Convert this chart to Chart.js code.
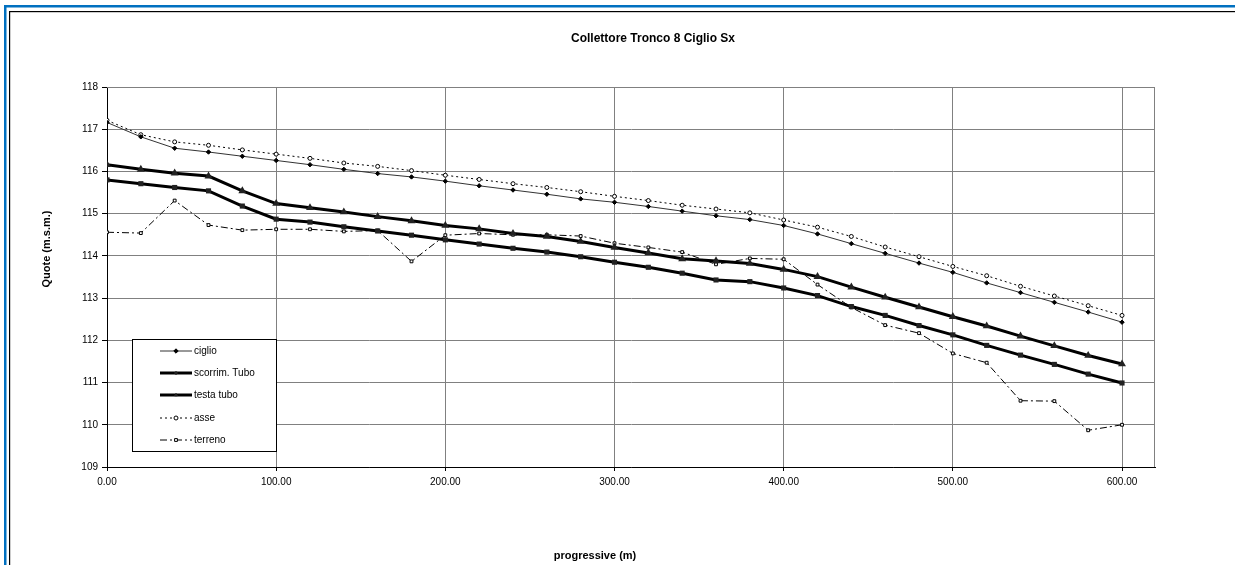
<!DOCTYPE html>
<html>
<head>
<meta charset="utf-8">
<title>Collettore Tronco 8 Ciglio Sx</title>
<script src="https://cdn.jsdelivr.net/npm/chart.js@4.4.1/dist/chart.umd.min.js"></script>
<style>
  html, body { margin: 0; padding: 0; background: #fff; }
  #wrap { position: relative; width: 1235px; height: 565px; }
</style>
</head>
<body>
<div id="wrap"><canvas id="chart" width="1235" height="565"></canvas></div>
<script>
// progressive (m)
const progressive = [0, 20, 40, 60, 80, 100, 120, 140, 160, 180, 200, 220, 240, 260, 280, 300,
    320, 340, 360, 380, 400, 420, 440, 460, 480, 500, 520, 540, 560, 580, 600];

// quote (m.s.m.)
const ciglio = [117.16, 116.82, 116.55, 116.46, 116.36, 116.26, 116.16, 116.05, 115.95, 115.87,
    115.77, 115.66, 115.56, 115.46, 115.35, 115.27, 115.17, 115.06, 114.95, 114.86,
    114.72, 114.52, 114.29, 114.06, 113.83, 113.61, 113.36, 113.13, 112.90, 112.67, 112.43];
const scorrimTubo = [115.80, 115.71, 115.62, 115.54, 115.18, 114.87, 114.80, 114.69, 114.59, 114.49,
    114.38, 114.28, 114.18, 114.09, 113.98, 113.85, 113.73, 113.59, 113.43, 113.39,
    113.24, 113.06, 112.80, 112.59, 112.35, 112.13, 111.88, 111.65, 111.43, 111.20, 110.99];
const testaTubo = [116.16, 116.05, 115.96, 115.89, 115.54, 115.24, 115.14, 115.04, 114.93, 114.83,
    114.72, 114.64, 114.53, 114.46, 114.34, 114.20, 114.07, 113.93, 113.88, 113.82,
    113.68, 113.51, 113.26, 113.02, 112.79, 112.56, 112.34, 112.10, 111.87, 111.64, 111.44];
const asse = [117.21, 116.87, 116.70, 116.62, 116.51, 116.41, 116.31, 116.20, 116.12, 116.02,
    115.91, 115.81, 115.71, 115.62, 115.52, 115.41, 115.31, 115.20, 115.11, 115.02,
    114.85, 114.68, 114.46, 114.21, 113.98, 113.75, 113.53, 113.28, 113.05, 112.82, 112.59];
const terreno = [114.56, 114.54, 115.31, 114.73, 114.61, 114.63, 114.63, 114.58, 114.60, 113.87,
    114.49, 114.53, 114.50, 114.50, 114.47, 114.30, 114.20, 114.09, 113.80, 113.94,
    113.92, 113.32, 112.78, 112.36, 112.17, 111.69, 111.47, 110.57, 110.56, 109.87, 110.00];

const xTicks = [0, 100, 200, 300, 400, 500, 600];
const FONT = "'Liberation Sans', Arial, sans-serif";

const toPoints = arr => progressive.map((x, i) => ({ x: x, y: arr[i] }));

// cornice, titoli e legenda disegnati a posizione fissa
const decorPlugin = {
    id: 'decor',
    beforeDraw(chart) {
        const ctx = chart.ctx;
        ctx.save();
        ctx.fillStyle = '#fff';
        ctx.fillRect(0, 0, chart.width, chart.height);
        // bordo blu esterno
        ctx.fillStyle = '#0070c0';
        ctx.fillRect(4, 5, chart.width, 2.5);
        ctx.fillRect(4, 5, 2.5, chart.height);
        // bordo nero interno
        ctx.fillStyle = '#000';
        ctx.fillRect(9, 11, chart.width, 1.2);
        ctx.fillRect(9, 11, 1.2, chart.height);
        ctx.restore();
    },
    afterDraw(chart) {
        const ctx = chart.ctx;
        const a = chart.chartArea;
        ctx.save();
        // riquadro area grafico
        ctx.strokeStyle = '#808080';
        ctx.lineWidth = 1;
        ctx.beginPath();
        ctx.moveTo(a.left, a.top + 0.5);
        ctx.lineTo(a.right - 0.5, a.top + 0.5);
        ctx.lineTo(a.right - 0.5, a.bottom);
        ctx.stroke();

        ctx.fillStyle = '#000';
        ctx.textAlign = 'center';
        ctx.textBaseline = 'middle';
        ctx.font = 'bold 12px ' + FONT;
        ctx.fillText('Collettore Tronco 8 Ciglio Sx', 653, 39);
        ctx.font = 'bold 11px ' + FONT;
        ctx.fillText('progressive (m)', 595, 556);
        ctx.translate(47, 249);
        ctx.rotate(-Math.PI / 2);
        ctx.fillText('Quote (m.s.m.)', 0, 0);
        ctx.restore();

        // legenda
        ctx.save();
        ctx.fillStyle = '#fff';
        ctx.fillRect(132, 339, 145, 112);
        ctx.strokeStyle = '#000';
        ctx.lineWidth = 1;
        ctx.strokeRect(132.5, 339.5, 144, 112);
        const rows = [351, 373, 395, 418, 440];
        chart.data.datasets.forEach((ds, i) => {
            const y = rows[i];
            ctx.strokeStyle = ds.borderColor;
            ctx.lineWidth = ds.borderWidth;
            ctx.setLineDash(ds.borderDash || []);
            ctx.beginPath();
            ctx.moveTo(160, y);
            ctx.lineTo(192, y);
            ctx.stroke();
            ctx.setLineDash([]);
            ctx.fillStyle = ds.pointBackgroundColor;
            ctx.strokeStyle = ds.pointBorderColor;
            ctx.lineWidth = 1;
            Chart.helpers.drawPoint(ctx, {
                pointStyle: ds.pointStyle,
                radius: ds.pointRadius,
                borderWidth: 1
            }, 176, y);
            ctx.fillStyle = '#000';
            ctx.font = '10px ' + FONT;
            ctx.textAlign = 'left';
            ctx.textBaseline = 'middle';
            ctx.fillText(ds.label, 194, y + 0.5);
        });
        ctx.restore();
    }
};

const ctx = document.getElementById('chart').getContext('2d');
new Chart(ctx, {
    type: 'line',
    data: {
        datasets: [{
            label: 'ciglio',
            data: toPoints(ciglio),
            borderColor: '#333',
            borderWidth: 1,
            pointStyle: 'rectRot',
            pointRadius: 2.2,
            pointBackgroundColor: '#000',
            pointBorderColor: '#000'
        }, {
            label: 'scorrim. Tubo',
            data: toPoints(scorrimTubo),
            borderColor: '#000',
            borderWidth: 3,
            pointStyle: 'rect',
            pointRadius: 1.5,
            pointBackgroundColor: '#222',
            pointBorderColor: '#222'
        }, {
            label: 'testa tubo',
            data: toPoints(testaTubo),
            borderColor: '#000',
            borderWidth: 3,
            pointStyle: 'triangle',
            pointRadius: 1.6,
            pointBackgroundColor: '#222',
            pointBorderColor: '#222'
        }, {
            label: 'asse',
            data: toPoints(asse),
            borderColor: '#000',
            borderWidth: 1,
            borderDash: [2, 3],
            pointStyle: 'circle',
            pointRadius: 2,
            pointBackgroundColor: '#fff',
            pointBorderColor: '#000'
        }, {
            label: 'terreno',
            data: toPoints(terreno),
            borderColor: '#000',
            borderWidth: 1,
            borderDash: [7, 3, 2, 3],
            pointStyle: 'rect',
            pointRadius: 2,
            pointBackgroundColor: '#fff',
            pointBorderColor: '#000'
        }]
    },
    options: {
        responsive: false,
        animation: false,
        layout: { padding: { left: 0, top: 87, right: 80, bottom: 0 } },
        plugins: {
            legend: { display: false },
            title: { display: false },
            tooltip: { enabled: false }
        },
        elements: { line: { tension: 0, fill: false }, point: { borderWidth: 1 } },
        scales: {
            x: {
                type: 'linear',
                min: 0,
                max: 619.5,
                afterBuildTicks: scale => { scale.ticks = xTicks.map(v => ({ value: v })); },
                afterFit: scale => { scale.height = 98; },
                ticks: {
                    color: '#000',
                    font: { family: FONT, size: 10 },
                    padding: 5,
                    maxRotation: 0,
                    autoSkip: false,
                    callback: v => v.toFixed(2)
                },
                grid: { color: '#808080', tickColor: '#000', tickLength: 4 },
                border: { color: '#000', width: 1 }
            },
            y: {
                min: 109,
                max: 118,
                afterFit: scale => { scale.width = 107; },
                ticks: {
                    stepSize: 1,
                    color: '#000',
                    font: { family: FONT, size: 10 },
                    padding: 4
                },
                grid: { color: '#808080', tickColor: '#000', tickLength: 5 },
                border: { color: '#000', width: 1 }
            }
        }
    },
    plugins: [decorPlugin]
});
</script>
</body>
</html>
